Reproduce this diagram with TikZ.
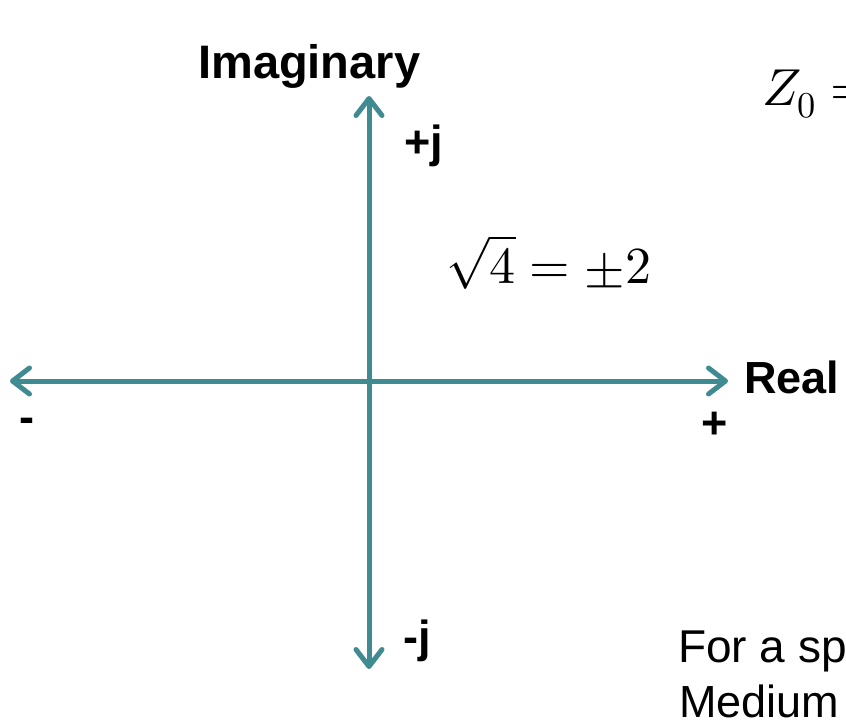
\documentclass[tikz,border=0pt]{standalone}
\usepackage{fontspec}
\usepackage{unicode-math}
\setmainfont{Liberation Sans}
\setmathfont{Latin Modern Math}
\usetikzlibrary{arrows.meta}
\definecolor{axisteal}{RGB}{64,139,146}
\tikzset{
  axis/.style={draw=axisteal, line width=5pt, line cap=round,
    -{Straight Barb[length=17pt,width=26pt,line cap=round,line join=round]}},
  boldlbl/.style={inner sep=0pt, anchor=base west, font=\fontsize{45}{54}\selectfont\bfseries},
  plainlbl/.style={inner sep=0pt, anchor=base west, font=\fontsize{45}{54}\selectfont},
  mathlbl/.style={inner sep=0pt, anchor=base west, font=\fontsize{52}{60}\selectfont}
}
\begin{document}
\begin{tikzpicture}[x=1pt,y=-1pt]
\useasboundingbox (0,0) rectangle (846,721);
\clip (0,0) rectangle (846,721);
\fill[white] (0,0) rectangle (846,721);
\coordinate (O) at (369,381);
\coordinate (L) at (10,381);
\coordinate (R) at (728,381);
\coordinate (T) at (369,96);
\coordinate (B) at (369,669);
\draw[axis] (O) -- (L);
\draw[axis] (O) -- (R);
\draw[axis] (O) -- (T);
\draw[axis] (O) -- (B);
\node[boldlbl, font=\fontsize{47}{56}\selectfont\bfseries] (imag) at (198,78) {Imaginary};
\node[boldlbl] (pj) at (404,157) {+j};
\node[boldlbl] (mj) at (403,652) {-j};
\node[boldlbl] (real) at (744,393) {Real};
\node[boldlbl] (plus) at (701,438) {+};
\node[boldlbl] (minus) at (19,432) {-};
\node[mathlbl] (sqrt) at (446,283) {$\sqrt{4} = \pm 2$};
\node[mathlbl] (z0) at (762,105) {$Z_0 =$};
\node[plainlbl, font=\fontsize{46}{56}\selectfont] (line1) at (678,662) {For a sp};
\node[plainlbl] (line2) at (679,717) {Medium};
\end{tikzpicture}
\end{document}
